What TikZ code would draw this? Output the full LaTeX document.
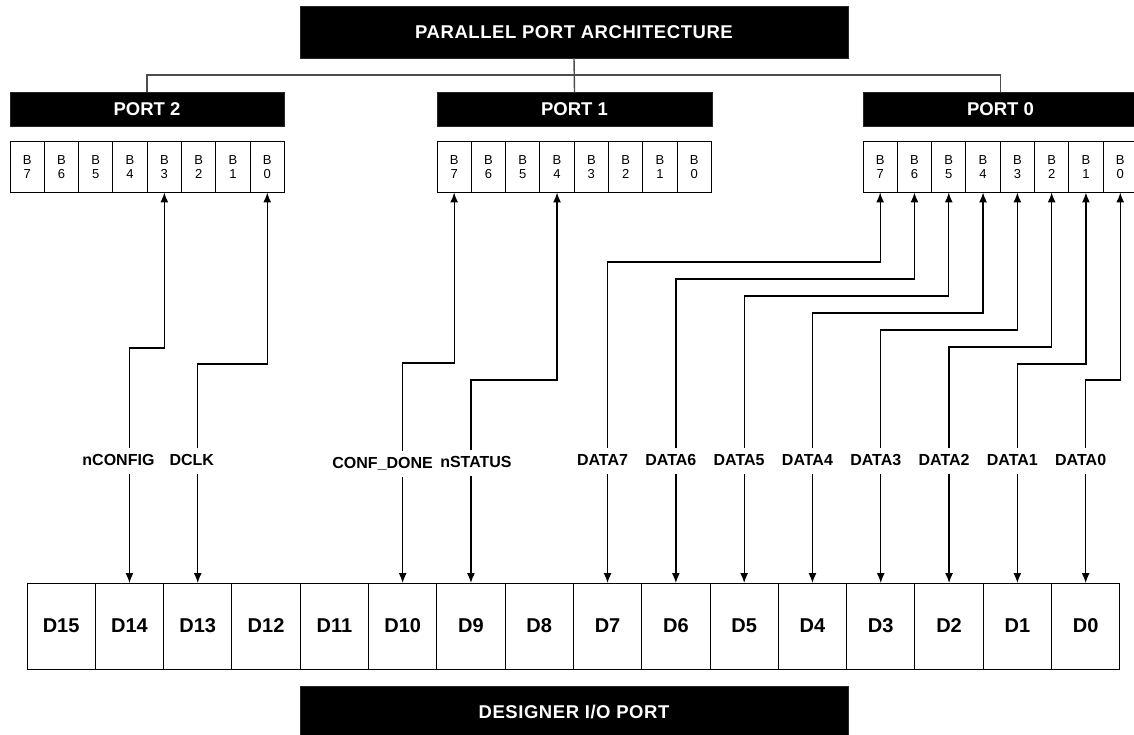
\documentclass[tikz,border=0pt]{standalone}
\usepackage{fontspec}
\setmainfont{Liberation Sans}
\usetikzlibrary{arrows.meta}
\begin{document}
\begin{tikzpicture}[x=1pt,y=-1pt,
  blackbox/.style={fill=black, draw=black!85, line width=0.6pt, text=white, inner sep=0pt, outer sep=0pt,
    font=\fontsize{18.5}{20}\selectfont\bfseries},
  bitcell/.style={draw=black, line width=1pt, minimum width=34.3pt, minimum height=51pt, inner sep=0pt,
    outer sep=0pt, align=center, font=\fontsize{13}{13.5}\selectfont},
  dcell/.style={draw=black, line width=1pt, minimum width=68.3pt, minimum height=86pt, inner sep=0pt,
    outer sep=0pt, font=\fontsize{20}{22}\selectfont\bfseries},
  treeline/.style={draw=black!70, line width=1.4pt},
  sig/.style={draw=black, line width=1.3pt, {Latex[length=10pt,width=8pt]}-{Latex[length=10pt,width=8pt]}},
  siglabel/.style={fill=white, inner xsep=1.5pt, inner ysep=6pt, text height=11.5pt, text depth=2pt,
    font=\fontsize{16}{17}\selectfont\bfseries}
]
\useasboundingbox (0,0) rectangle (1134,735);

% title boxes
\node[blackbox, minimum width=548pt, minimum height=52pt] (top) at (574,32) {\addfontfeatures{LetterSpace=3}PARALLEL PORT ARCHITECTURE};
\node[blackbox, minimum width=274pt, minimum height=34pt] (port2) at (147,109) {PORT 2};
\node[blackbox, minimum width=275pt, minimum height=34pt] (port1) at (574.5,109) {PORT 1};
\node[blackbox, minimum width=275pt, minimum height=34pt] (port0) at (1000.5,109) {PORT 0};
\node[blackbox, minimum width=548pt, minimum height=52pt] (bottom) at (574,712) {\addfontfeatures{LetterSpace=3}DESIGNER I/O PORT};

% tree
\coordinate (treeY) at (0,75);
\draw[treeline] (top.south) -- (port1.north);
\draw[treeline] (port2.north) -- (port2.north |- treeY) -- (port0.north |- treeY) -- (port0.north);

% bit cells
\foreach \p/\x in {2/10, 1/437, 0/863}{
  \foreach \b in {7,...,0}{
    \pgfmathsetmacro{\cx}{\x + 34.3*(7-\b) + 17.15}
    \node[bitcell] (p\p b\b) at (\cx,167) {B\\\b};
  }
}

% D cells
\foreach \d in {15,...,0}{
  \pgfmathsetmacro{\cx}{27 + 68.3*(15-\d) + 34.15}
  \node[dcell] (d\d) at (\cx,626) {D\d};
}

% connectors
\draw[sig] (p2b3.south) -- ++(0,155.5) -| (d14.north);
\draw[sig] (p2b0.south) -- ++(0,171.5) -| (d13.north);
\draw[sig] (p1b7.south) -- ++(0,170.5) -| (d10.north);
\draw[sig] (p1b4.south) -- ++(0,187.5) -| (d9.north);
\draw[sig] (p0b7.south) -- ++(0,69.5) -| (d7.north);
\draw[sig] (p0b6.south) -- ++(0,86.5) -| (d6.north);
\draw[sig] (p0b5.south) -- ++(0,103.5) -| (d5.north);
\draw[sig] (p0b4.south) -- ++(0,120.5) -| (d4.north);
\draw[sig] (p0b3.south) -- ++(0,137.5) -| (d3.north);
\draw[sig] (p0b2.south) -- ++(0,154.5) -| (d2.north);
\draw[sig] (p0b1.south) -- ++(0,171.5) -| (d1.north);
\draw[sig] (p0b0.south) -- ++(0,187.5) -| (d0.north);

% signal labels
\coordinate (labY) at (0,461);
\node[siglabel] (lnconfig) at ([xshift=-11pt]d14.north |- labY) {nCONFIG};
\node[siglabel] (ldclk) at ([xshift=-6pt]d13.north |- labY) {DCLK};
\node[siglabel] (lconfdone) at ([xshift=-20pt,yshift=-3pt]d10.north |- labY) {CONF\_DONE};
\node[siglabel] (lnstatus) at ([xshift=5pt,yshift=-2pt]d9.north |- labY) {nSTATUS};
\foreach \i in {7,...,0}{
  \node[siglabel] (ldata\i) at ([xshift=-5pt]d\i.north |- labY) {DATA\i};
}
\end{tikzpicture}
\end{document}
